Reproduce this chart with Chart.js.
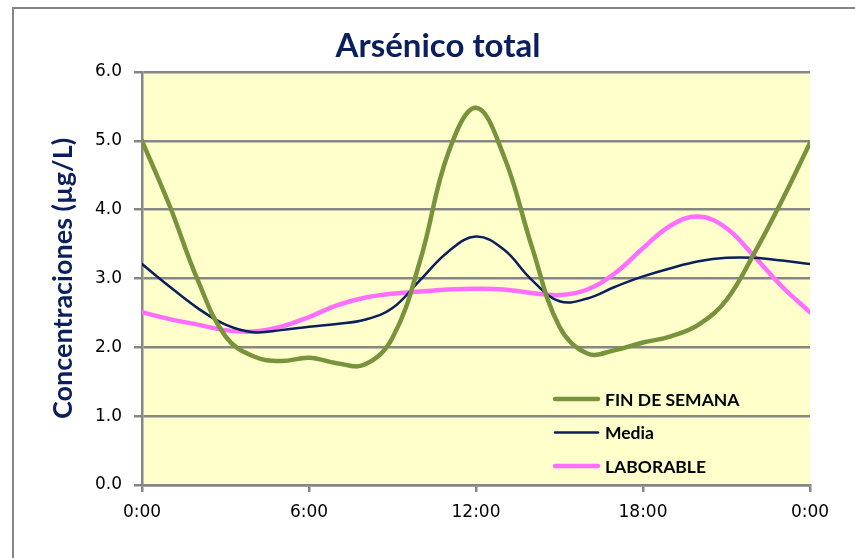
<!DOCTYPE html>
<html lang="es">
<head>
<meta charset="UTF-8">
<title>Arsénico total</title>
<script src="https://cdn.jsdelivr.net/npm/chart.js/dist/chart.umd.min.js"></script>
<style>
  html, body { margin: 0; padding: 0; background: #fff; }
  #wrap { width: 855px; height: 558px; position: relative; }
</style>
</head>
<body>
<div id="wrap"><canvas id="myChart" width="855" height="558"></canvas></div>
<script>
// hours of the day (0 to 24 = next 0:00)
const hours = [0,1,2,3,4,5,6,7,8,9,10,11,12,13,14,15,16,17,18,19,20,21,22,23,24];
const finDeSemana = [5.0,4.05,2.98,2.16,1.87,1.80,1.85,1.77,1.75,2.14,3.27,4.82,5.48,4.78,3.47,2.30,1.91,1.96,2.07,2.16,2.33,2.69,3.37,4.14,4.97];
const media = [3.21,2.88,2.57,2.33,2.22,2.25,2.30,2.34,2.40,2.57,2.98,3.39,3.61,3.42,2.98,2.67,2.71,2.88,3.03,3.15,3.25,3.30,3.30,3.26,3.21];
const laborable = [2.51,2.41,2.33,2.25,2.23,2.30,2.44,2.61,2.72,2.78,2.81,2.84,2.85,2.84,2.79,2.76,2.84,3.08,3.44,3.77,3.90,3.73,3.32,2.88,2.51];
const yTicks = [0,1,2,3,4,5,6];
const xTicks = [0,6,12,18,24];
const chartTitle = 'Arsénico total';

const toPoints = vals => vals.map((v, i) => ({x: hours[i], y: v}));

// yellow plot area, outer frame and title
const backdrop = {
  id: 'backdrop',
  beforeDraw(chart) {
    const {ctx, chartArea: a} = chart;
    ctx.save();
    ctx.fillStyle = '#FFFFCC';
    ctx.fillRect(a.left, a.top, a.right - a.left, a.bottom - a.top);
    ctx.strokeStyle = '#868686';
    ctx.lineWidth = 2;
    ctx.beginPath();
    ctx.moveTo(13, 558);
    ctx.lineTo(13, 8);
    ctx.lineTo(855, 8);
    ctx.stroke();
    ctx.fillStyle = '#0A1F5C';
    ctx.font = 'bold 33px Lato';
    ctx.textAlign = 'center';
    ctx.textBaseline = 'middle';
    ctx.fillText(chartTitle, 438, 46);
    ctx.restore();
  }
};

// legend drawn inside the plot, bottom right
const innerLegend = {
  id: 'innerLegend',
  afterDatasetsDraw(chart) {
    const {ctx} = chart;
    ctx.save();
    ctx.font = 'bold 17.5px Lato';
    ctx.textBaseline = 'middle';
    ctx.fillStyle = '#000';
    chart.data.datasets.forEach((ds, i) => {
      const y = 399 + i * 33.5;
      ctx.strokeStyle = ds.borderColor;
      ctx.lineWidth = ds.borderWidth;
      ctx.lineCap = 'round';
      ctx.beginPath();
      ctx.moveTo(555, y);
      ctx.lineTo(598, y);
      ctx.stroke();
      ctx.fillText(ds.label, 605, y + 1);
    });
    ctx.restore();
  }
};

new Chart(document.getElementById('myChart'), {
  type: 'line',
  data: {
    datasets: [
      {label: 'FIN DE SEMANA', data: toPoints(finDeSemana), borderColor: '#77933C', borderWidth: 4.5},
      {label: 'Media', data: toPoints(media), borderColor: '#0A1F5C', borderWidth: 2.5},
      {label: 'LABORABLE', data: toPoints(laborable), borderColor: '#FF6EFF', borderWidth: 4.5}
    ]
  },
  options: {
    responsive: false,
    animation: false,
    layout: {padding: {left: 0, right: 45, top: 72, bottom: 0}},
    elements: {
      point: {radius: 0},
      line: {tension: 0.4, borderCapStyle: 'round', borderJoinStyle: 'round'}
    },
    plugins: {
      legend: {display: false},
      tooltip: {enabled: false},
      title: {display: false}
    },
    scales: {
      x: {
        type: 'linear',
        min: 0,
        max: 24,
        afterBuildTicks: s => { s.ticks = xTicks.map(v => ({value: v})); },
        afterFit: s => { s.height = 73; },
        ticks: {
          color: '#000',
          font: {family: 'DejaVu Sans', size: 17},
          padding: 10,
          maxRotation: 0,
          callback: v => (v % 24) + ':00'
        },
        grid: {drawOnChartArea: false, drawTicks: true, tickLength: 7, color: '#868686', lineWidth: 2.5},
        border: {color: '#868686', width: 2.5}
      },
      y: {
        min: 0,
        max: 6,
        afterBuildTicks: s => { s.ticks = yTicks.map(v => ({value: v})); },
        afterFit: s => { s.width = 142; },
        ticks: {
          color: '#000',
          font: {family: 'DejaVu Sans', size: 17},
          padding: 12,
          callback: v => v.toFixed(1)
        },
        grid: {color: '#868686', lineWidth: 2.5, tickLength: 8},
        border: {color: '#868686', width: 2.5},
        title: {
          display: true,
          text: 'Concentraciones (µg/L)',
          color: '#0A1F5C',
          font: {family: 'Lato', size: 27, weight: 'bold'},
          padding: {top: 47, bottom: 0}
        }
      }
    }
  },
  plugins: [backdrop, innerLegend]
});
</script>
</body>
</html>
